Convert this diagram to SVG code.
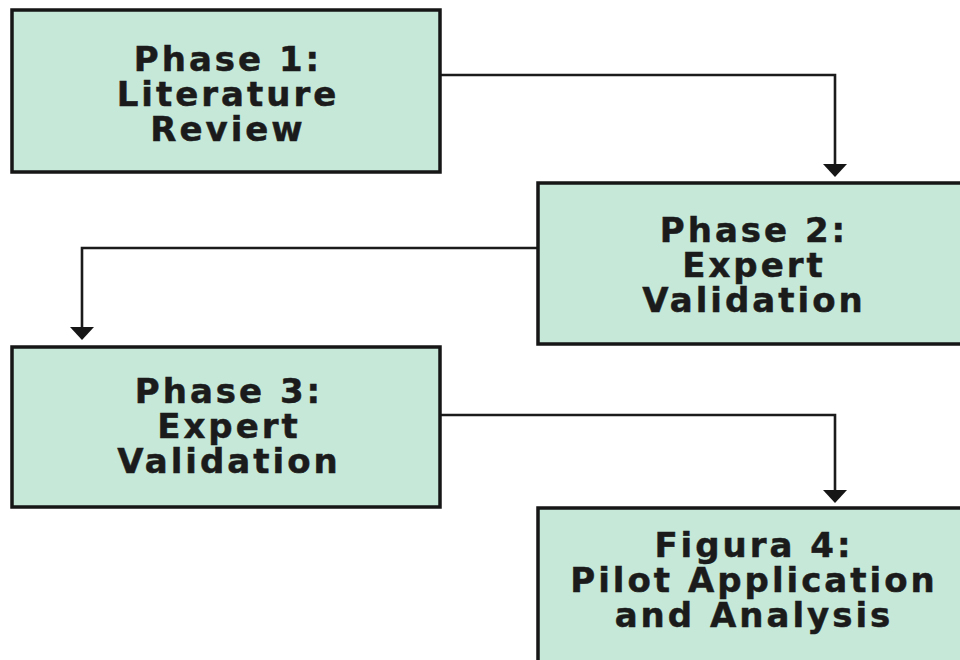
<svg xmlns="http://www.w3.org/2000/svg" width="960" height="660" viewBox="0 0 960 660">
  <style>
    .box { fill: #c5e8d9; stroke: #161616; stroke-width: 3.5; }
    .label { font-family: "DejaVu Sans", Verdana, sans-serif; font-weight: bold; font-size: 34px; fill: #1b1b1b; stroke: #1b1b1b; stroke-width: 0.5; text-anchor: middle; letter-spacing: 3px; }
    .link { fill: none; stroke: #1b1b1b; stroke-width: 2.6; }
  </style>
  <defs>
    <marker id="arrow" markerUnits="userSpaceOnUse" markerWidth="14" markerHeight="24" refX="7" refY="12" orient="auto">
      <path d="M0,0 L13,12 L0,24 Z" fill="#161616"/>
    </marker>
  </defs>
  <rect width="960" height="660" fill="#ffffff"/>

  <g id="connectors">
    <path class="link" d="M440,75 H835 V171" marker-end="url(#arrow)"/>
    <path class="link" d="M538,248 H82 V334" marker-end="url(#arrow)"/>
    <path class="link" d="M440,415 H835 V497" marker-end="url(#arrow)"/>
  </g>

  <g id="phase1">
    <rect class="box" x="12" y="10" width="428" height="162"/>
    <text class="label"><tspan x="228" y="71">Phase 1:</tspan><tspan x="228" y="106">Literature</tspan><tspan x="228" y="141">Review</tspan></text>
  </g>

  <g id="phase2">
    <rect class="box" x="538" y="183" width="430" height="161"/>
    <text class="label"><tspan x="754" y="242">Phase 2:</tspan><tspan x="754" y="277">Expert</tspan><tspan x="754" y="312">Validation</tspan></text>
  </g>

  <g id="phase3">
    <rect class="box" x="12" y="347" width="428" height="160"/>
    <text class="label"><tspan x="229" y="403">Phase 3:</tspan><tspan x="229" y="438">Expert</tspan><tspan x="229" y="473">Validation</tspan></text>
  </g>

  <g id="phase4">
    <rect class="box" x="538" y="508" width="430" height="170"/>
    <text class="label"><tspan x="754" y="557">Figura 4:</tspan><tspan x="754" y="592">Pilot Application</tspan><tspan x="754" y="627">and Analysis</tspan></text>
  </g>
</svg>
